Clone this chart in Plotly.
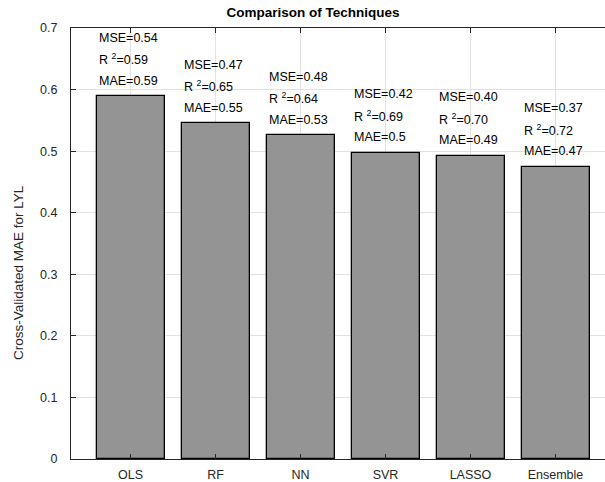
import plotly.graph_objects as go

# Model comparison data
categories = ["OLS", "RF", "NN", "SVR", "LASSO", "Ensemble"]
mae = [0.589, 0.545, 0.526, 0.497, 0.4925, 0.4746]
mse = [0.54, 0.47, 0.48, 0.42, 0.40, 0.37]
r2 = [0.59, 0.65, 0.64, 0.69, 0.70, 0.72]

positions = list(range(1, len(categories) + 1))
bar_width = 0.8

FONT = "Liberation Sans, Arial, Helvetica, sans-serif"
DARK = "#262626"

fig = go.Figure()
fig.add_trace(go.Bar(
    x=positions,
    y=mae,
    width=bar_width,
    marker=dict(color="rgb(148,148,148)", line=dict(color="black", width=1.3)),
    hoverinfo="skip",
))

# Three stacked metric labels above each bar, left-aligned with the bar edge
annotations = []
for xpos, a, m, r in zip(positions, mae, mse, r2):
    lines = [
        (f"MAE={a:.2g}", 15.5),
        (f"R <sup>2</sup>=%.2f" % r, 37),
        (f"MSE={m:.2f}", 58.5),
    ]
    for text, shift in lines:
        annotations.append(dict(
            x=xpos - bar_width / 2, y=a, xref="x", yref="y",
            text=text, showarrow=False,
            xanchor="left", yanchor="middle", yshift=shift,
            font=dict(family=FONT, size=12.5, color="black"),
        ))

# Vertical axis label
annotations.append(dict(
    x=(18 - 71) / 534, y=(459 - 273) / 431, xref="paper", yref="paper",
    text="Cross-Validated MAE for LYL", textangle=-90, showarrow=False,
    xanchor="center", yanchor="middle",
    font=dict(family=FONT, size=13.5, color=DARK),
))

fig.update_layout(
    width=605, height=482,
    margin=dict(l=71, r=0, t=28, b=23, pad=0),
    paper_bgcolor="white", plot_bgcolor="white",
    showlegend=False,
    bargap=0,
    title=dict(
        text="<b>Comparison of Techniques</b>",
        x=313 / 605, xanchor="center", xref="container",
        y=1 - 12 / 482, yanchor="middle", yref="container",
        font=dict(family=FONT, size=13.5, color="black"),
    ),
    annotations=annotations,
    xaxis=dict(
        range=[0.3, 0.3 + 534 / 85],
        tickvals=positions, ticktext=categories,
        ticks="inside", ticklen=5, tickcolor=DARK,
        showline=True, linecolor=DARK, linewidth=1, mirror="ticks",
        showgrid=True, gridcolor="rgb(225,225,225)", gridwidth=1,
        zeroline=False,
        tickfont=dict(family=FONT, size=12.5, color=DARK),
        ticklabelstandoff=4,
    ),
    yaxis=dict(
        range=[0, 0.7], dtick=0.1, tick0=0,
        ticks="inside", ticklen=5, tickcolor=DARK,
        showline=True, linecolor=DARK, linewidth=1, mirror=False,
        showgrid=True, gridcolor="rgb(225,225,225)", gridwidth=1,
        zeroline=False,
        tickfont=dict(family=FONT, size=12.5, color=DARK),
        ticklabelstandoff=10,
    ),
)

fig.write_html("out.html")
